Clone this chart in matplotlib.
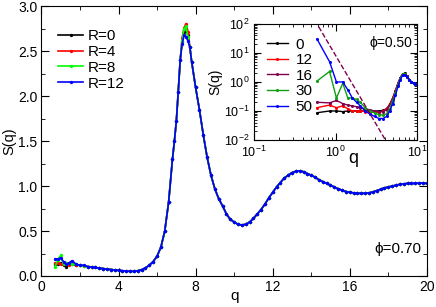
import matplotlib.pyplot as plt
import numpy as np

plt.rcParams['font.family'] = ['Liberation Sans', 'DejaVu Sans']
plt.rcParams['mathtext.default'] = 'regular'

# main panel, phi=0.70: per-series low-q head, shared body, per-series peak top
q_head = [0.7, 0.85, 1.0, 1.15, 1.3, 1.45, 1.6, 1.8, 2.0, 2.2]
s_head_r0 = [0.13, 0.13, 0.14, 0.12, 0.10, 0.13, 0.13, 0.12, 0.12, 0.11]
s_head_r4 = [0.14, 0.15, 0.13, 0.14, 0.13, 0.12, 0.14, 0.12, 0.12, 0.11]
s_head_r8 = [0.10, 0.18, 0.23, 0.13, 0.15, 0.14, 0.13, 0.13, 0.12, 0.11]
s_head_r12 = [0.19, 0.19, 0.20, 0.16, 0.13, 0.15, 0.17, 0.13, 0.12, 0.12]

q_mid = [2.4, 2.6, 2.8, 3.0, 3.2, 3.4, 3.6, 3.8, 4.0, 4.2, 4.4, 4.6, 4.8, 5.0,
         5.2, 5.4, 5.6, 5.8, 6.0, 6.2, 6.4, 6.6, 6.8, 6.9, 7.0, 7.1, 7.2]
s_mid = [0.105, 0.10, 0.095, 0.088, 0.082, 0.077, 0.072, 0.067, 0.062, 0.058,
         0.055, 0.052, 0.052, 0.058, 0.07, 0.09, 0.12, 0.16, 0.22, 0.32, 0.50,
         0.82, 1.30, 1.50, 1.72, 2.05, 2.40]

q_peak = [7.3, 7.4, 7.5, 7.6]
s_peak_r0 = [2.60, 2.72, 2.75, 2.68]
s_peak_r4 = [2.65, 2.76, 2.81, 2.72]
s_peak_r8 = [2.62, 2.75, 2.78, 2.66]
s_peak_r12 = [2.58, 2.68, 2.66, 2.62]

q_tail = [7.7, 7.8, 8.0, 8.2, 8.4, 8.6, 8.8, 9.0, 9.2, 9.4, 9.6, 9.8, 10.0,
          10.2, 10.4, 10.6, 10.8, 11.0, 11.2, 11.4, 11.6, 11.8, 12.0, 12.2,
          12.4, 12.6, 12.8, 13.0, 13.2, 13.4, 13.6, 13.8, 14.0, 14.2, 14.4,
          14.6, 14.8, 15.0, 15.2, 15.4, 15.6, 15.8, 16.0, 16.2, 16.4, 16.6,
          16.8, 17.0, 17.2, 17.4, 17.6, 17.8, 18.0, 18.2, 18.4, 18.6, 18.8,
          19.0, 19.2, 19.4, 19.6, 19.8, 20.0]
s_tail = [2.55, 2.38, 2.10, 1.85, 1.57, 1.32, 1.12, 0.97, 0.86, 0.78, 0.69,
          0.63, 0.60, 0.575, 0.567, 0.575, 0.60, 0.64, 0.69, 0.74, 0.80, 0.87,
          0.93, 0.99, 1.04, 1.09, 1.12, 1.15, 1.165, 1.17, 1.16, 1.14, 1.12,
          1.10, 1.07, 1.05, 1.03, 1.01, 0.99, 0.97, 0.955, 0.94, 0.93, 0.925,
          0.92, 0.92, 0.92, 0.925, 0.935, 0.95, 0.965, 0.98, 0.99, 1.0, 1.01,
          1.02, 1.025, 1.03, 1.03, 1.03, 1.035, 1.035, 1.03]

main_labels = ['R=0', 'R=4', 'R=8', 'R=12']
main_colors = ['black', 'red', '#00ff00', 'blue']
main_heads = [s_head_r0, s_head_r4, s_head_r8, s_head_r12]
main_peaks = [s_peak_r0, s_peak_r4, s_peak_r8, s_peak_r12]

# inset, phi=0.50
q_in = [0.59, 0.84, 1.02, 1.22, 1.4, 1.6, 1.8, 2.0, 2.3, 2.6, 3.0, 3.4, 3.8,
        4.2, 4.6, 5.0, 5.4, 5.8, 6.2, 6.6, 7.0, 7.5, 8.0, 8.5, 9.0, 9.5, 10.0]
s_in_0 = [0.087, 0.10, 0.10, 0.095, 0.10, 0.10, 0.10, 0.10, 0.10, 0.10, 0.10,
          0.10, 0.105, 0.12, 0.17, 0.28, 0.50, 0.90, 1.40, 1.90, 2.00, 1.60,
          1.20, 1.00, 0.90, 0.85, 0.80]
s_in_12 = [0.13, 0.16, 0.13, 0.15, 0.12, 0.10, 0.10, 0.10, 0.095, 0.09, 0.09,
           0.09, 0.10, 0.12, 0.17, 0.28, 0.50, 0.90, 1.40, 1.85, 1.95, 1.55,
           1.20, 1.00, 0.90, 0.85, 0.80]
s_in_16 = [0.20, 0.19, 0.23, 0.18, 0.16, 0.15, 0.14, 0.13, 0.12, 0.11, 0.10,
           0.095, 0.095, 0.11, 0.16, 0.26, 0.48, 0.88, 1.38, 1.85, 1.95, 1.55,
           1.20, 1.00, 0.90, 0.85, 0.80]
s_in_30 = [1.08, 2.30, 0.28, 0.90, 0.29, 0.28, 0.25, 0.20, 0.13, 0.10, 0.085,
           0.075, 0.072, 0.08, 0.12, 0.22, 0.42, 0.80, 1.30, 1.85, 1.90, 1.50,
           1.15, 1.00, 0.90, 0.85, 0.80]
s_in_50 = [30.0, 5.0, 1.0, 1.0, 0.55, 0.28, 0.20, 0.15, 0.10, 0.08, 0.065,
           0.055, 0.055, 0.065, 0.10, 0.18, 0.35, 0.70, 1.20, 1.70, 1.75, 1.45,
           1.15, 1.00, 0.90, 0.85, 0.80]
inset_labels = ['0', '12', '16', '30', '50']
inset_colors = ['black', 'red', '#800050', '#10a010', 'blue']
inset_series = [s_in_0, s_in_12, s_in_16, s_in_30, s_in_50]

guide_q = [0.5, 4.5]
guide_s = [220.0, 0.0062]

fig = plt.figure(figsize=(4.36, 3.07), dpi=100)
ax = fig.add_axes([0.095, 0.101, 0.884, 0.878])

for lab, col, head, peak in zip(main_labels, main_colors, main_heads, main_peaks):
    q = np.concatenate([q_head, q_mid, q_peak, q_tail])
    s = np.concatenate([head, s_mid, peak, s_tail])
    ax.plot(q, s, color=col, lw=1.2, marker='o', ms=2.4, mew=0, label=lab)

ax.set_xlim(0, 20)
ax.set_ylim(0, 3)
ax.set_xticks([0, 4, 8, 12, 16, 20])
ax.set_xticks([2, 6, 10, 14, 18], minor=True)
ax.set_yticks([0, 0.5, 1.0, 1.5, 2.0, 2.5, 3.0])
ax.set_yticks(np.arange(0.25, 3, 0.5), minor=True)
ax.yaxis.set_major_formatter(plt.FormatStrFormatter('%.1f'))
ax.tick_params(which='both', direction='in', top=True, right=True, labelsize=10)
ax.tick_params(which='major', length=6, pad=3)
ax.tick_params(which='minor', length=3)
ax.set_xlabel('q', fontsize=11)
ax.xaxis.set_label_coords(0.5, -0.05)
ax.set_ylabel('S(q)', fontsize=10.5)
ax.yaxis.set_label_coords(-0.066, 0.5)
ax.text(0.985, 0.1, 'ϕ=0.70', transform=ax.transAxes, ha='right', va='center',
        fontsize=11, family=['Liberation Sans', 'DejaVu Sans'])
ax.legend(loc='upper left', bbox_to_anchor=(0.02, 0.95), frameon=False,
          fontsize=11, handlelength=1.6, handletextpad=0.3, labelspacing=0.12,
          borderaxespad=0.2)

ins = fig.add_axes([0.583, 0.544, 0.374, 0.378])
for lab, col, s in zip(inset_labels, inset_colors, inset_series):
    ins.plot(q_in, s, color=col, lw=1.0, marker='o', ms=2.2, mew=0, label=lab)
ins.plot(guide_q, guide_s, color='#800050', lw=1.0, ls='--')
ins.set_xscale('log')
ins.set_yscale('log')
ins.set_xlim(0.1, 10)
ins.set_ylim(0.01, 100)
ins.tick_params(which='both', direction='in', top=True, right=True, labelsize=9)
ins.tick_params(which='major', length=5)
ins.tick_params(which='minor', length=2.5)
ins.set_xlabel('q', fontsize=13)
ins.xaxis.set_label_coords(0.61, -0.09)
ins.set_ylabel('S(q)', fontsize=10, labelpad=1)
ins.text(0.97, 0.84, 'ϕ=0.50', transform=ins.transAxes, ha='right', va='center',
         fontsize=10, family=['Liberation Sans', 'DejaVu Sans'])
ins.legend(loc='upper left', bbox_to_anchor=(0.02, 0.96), frameon=False,
           fontsize=11, handlelength=1.4, handletextpad=0.5, labelspacing=0.1,
           borderaxespad=0.2)

fig.savefig('out.png', dpi=100)
